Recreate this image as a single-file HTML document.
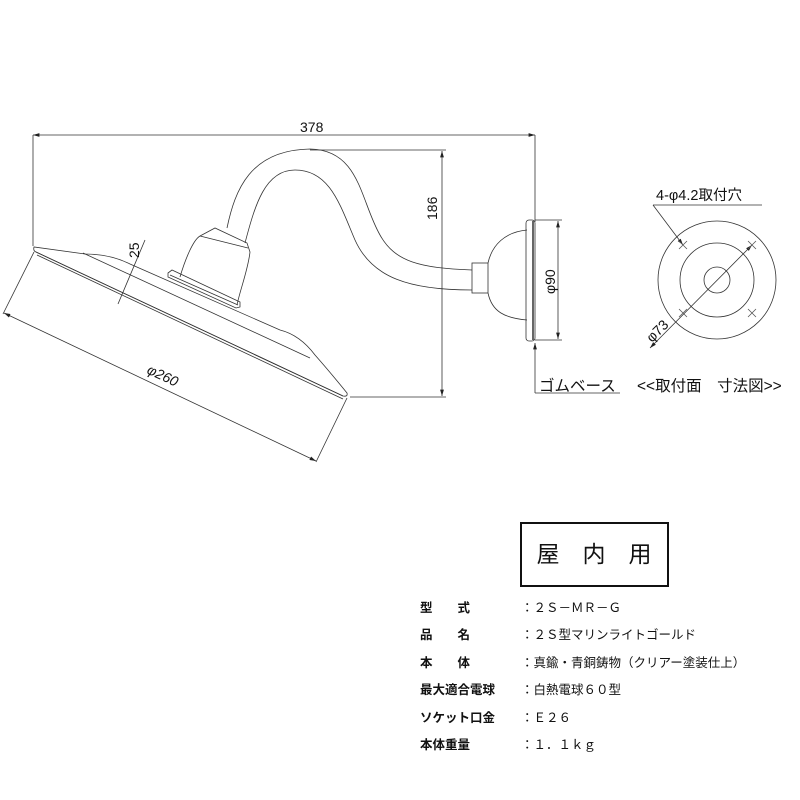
<!DOCTYPE html>
<html><head><meta charset="utf-8"><style>
body{margin:0;background:#fff}
svg{display:block}
text{font-family:"Liberation Sans","Noto Sans CJK JP",sans-serif;fill:#111}
</style></head><body>
<svg width="800" height="800" viewBox="0 0 800 800" xmlns="http://www.w3.org/2000/svg">
<defs>
<marker id="a" viewBox="0 0 10 6" refX="10" refY="3" markerWidth="8" markerHeight="5" orient="auto-start-reverse"><path d="M0,0L10,3L0,6z" fill="#222"/></marker>
</defs>
<g stroke="#333" stroke-width="0.8" fill="none">
<line x1="33" y1="135" x2="535" y2="135" marker-start="url(#a)" marker-end="url(#a)"/>
<line x1="33" y1="135" x2="33" y2="246"/>
<line x1="535" y1="135" x2="535" y2="222"/>
<line x1="310" y1="150" x2="446" y2="150"/>
<line x1="350" y1="397" x2="446" y2="397"/>
<line x1="442" y1="151" x2="442" y2="396" marker-start="url(#a)" marker-end="url(#a)"/>
<path d="M34,247 Q33,251 36,252 L343,396 Q348,397 347,393 Q330,372 315,355 Q300,335 280,330 L130,264 Q110,254 85,254 Z"/>
<line x1="36" y1="252" x2="343" y2="396"/>
<line x1="37" y1="255" x2="343" y2="399" />
<line x1="83" y1="253" x2="310" y2="358"/>
<path d="M168,273 L172,270 L240,302 L240,307 L236,308 L168,277 Z"/>
<line x1="170" y1="275" x2="238" y2="305"/>
<path d="M180,277 C185,260 193,240 200,236 L215,228 L247,243 L250,252 C248,270 240,290 237,305"/>
<line x1="200" y1="236" x2="248" y2="248"/>
<path d="M227,228 C235,190 250,150 310,149 C360,150 360,200 380,235 C395,262 420,268 472,270"/>
<path d="M245,243 C255,205 265,170 295,170 C330,170 340,205 355,240 C372,278 410,290 472,290"/>
<rect x="472" y="263" width="16" height="30"/>
<path d="M488,263 C492,245 505,232 527,230 M488,293 C492,312 505,318 527,320"/>
<rect x="526" y="220" width="9" height="121" rx="3"/>
<line x1="533" y1="221" x2="533" y2="340" stroke-width="1.5"/>
<line x1="535" y1="220" x2="562" y2="220"/>
<line x1="535" y1="340" x2="562" y2="340"/>
<line x1="558" y1="221" x2="558" y2="339" marker-start="url(#a)" marker-end="url(#a)"/>
<line x1="535" y1="393" x2="535" y2="343" marker-end="url(#a)"/>
<line x1="535" y1="393" x2="620" y2="393"/>
<line x1="34" y1="252" x2="3" y2="314"/>
<line x1="347" y1="398" x2="316" y2="462"/>
<line x1="4" y1="313" x2="316" y2="461" marker-start="url(#a)" marker-end="url(#a)"/>
<line x1="145" y1="240" x2="118" y2="304"/>
<circle cx="717" cy="280" r="59"/>
<circle cx="717" cy="280" r="37"/>
<circle cx="717" cy="280" r="13"/>
<line x1="650" y1="348" x2="752" y2="245" marker-start="url(#a)" marker-end="url(#a)"/>
<line x1="683" y1="245" x2="653" y2="205" marker-start="url(#a)"/>
<line x1="653" y1="205" x2="762" y2="205"/>
</g>
<g stroke="#555" stroke-width="0.8">
<path d="M679,241l8,8M687,241l-8,8M748,241l8,8M756,241l-8,8M679,309l8,8M687,309l-8,8M748,309l8,8M756,309l-8,8"/>
</g>
<g font-size="14">
<text x="300" y="132">378</text>
<text transform="translate(437,220) rotate(-90)">186</text>
<text transform="translate(139,258) rotate(-90)">25</text>
<text transform="translate(146,373) rotate(25)" font-style="italic">φ260</text>
<text transform="translate(555,294) rotate(-90)">φ90</text>
<text transform="translate(652,343) rotate(-45)">φ73</text>
<text x="656" y="200" font-size="14.5">4-φ4.2取付穴</text>
<text x="539" y="391" font-size="15.5">ゴムベース</text>
<text x="637" y="391" font-size="15.5">&lt;&lt;取付面　寸法図&gt;&gt;</text>
</g>
<rect x="521" y="523" width="147" height="63" fill="none" stroke="#111" stroke-width="2"/>
<text x="594" y="562" font-size="23" text-anchor="middle">屋　内　用</text>
<g font-size="12.5" font-weight="bold">
<text x="420" y="612">型　　式</text><text x="521" y="612" font-weight="normal">：２Ｓ－ＭＲ－Ｇ</text>
<text x="420" y="639">品　　名</text><text x="521" y="639" font-weight="normal">：２Ｓ型マリンライトゴールド</text>
<text x="420" y="667">本　　体</text><text x="521" y="667" font-weight="normal">：真鍮・青銅鋳物（クリアー塗装仕上）</text>
<text x="420" y="694">最大適合電球</text><text x="521" y="694" font-weight="normal">：白熱電球６０型</text>
<text x="420" y="722">ソケット口金</text><text x="521" y="722" font-weight="normal">：Ｅ２６</text>
<text x="420" y="749">本体重量</text><text x="521" y="749" font-weight="normal">：１．１ｋｇ</text>
</g>
</svg>
</body></html>
